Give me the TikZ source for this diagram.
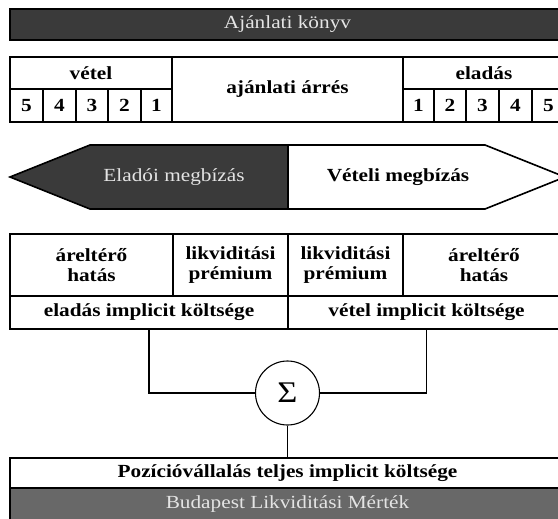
\documentclass[tikz,border=0pt]{standalone}
\usepackage{fontspec}
\setmainfont{Liberation Serif}[FakeStretch=1.15]
\definecolor{topdark}{HTML}{3A3A3A}
\definecolor{botgray}{HTML}{686868}
\definecolor{lighttext}{HTML}{E4E4E4}
\newcommand{\diafont}{\fontsize{18.5}{20.5}\selectfont}
\tikzset{
  cell/.style={draw=black, line width=1.5pt, fill=white, inner sep=0pt, font=\diafont\bfseries, align=center},
  darkbar/.style={draw=black, line width=1.5pt, fill=topdark, inner sep=0pt, text=lighttext, font=\diafont},
  graybar/.style={draw=black, line width=1.5pt, fill=botgray, inner sep=0pt, text=lighttext, font=\diafont},
  conn/.style={draw=black, line width=1.6pt},
  arrowpart/.style={draw=black, line width=1.6pt, line join=miter}
}
\begin{document}
\begin{tikzpicture}[x=1pt,y=-1pt]
\useasboundingbox (0,0) rectangle (558,519);
% top bar
\node[darkbar, minimum width=555pt, minimum height=31pt] (book) at (287.5,24.5) {Ajánlati könyv};
% order book table
\node[cell, minimum width=162pt, minimum height=32pt] (vetel) at (91,73) {vétel};
\node[cell, minimum width=33pt, minimum height=33pt] (v5) at (26.5,105.5) {5};
\node[cell, minimum width=33pt, minimum height=33pt] (v4) at (59.5,105.5) {4};
\node[cell, minimum width=32pt, minimum height=33pt] (v3) at (92,105.5) {3};
\node[cell, minimum width=33pt, minimum height=33pt] (v2) at (124.5,105.5) {2};
\node[cell, minimum width=31pt, minimum height=33pt] (v1) at (156.5,105.5) {1};
\node[cell, minimum width=231pt, minimum height=65pt] (spread) at (287.5,89.5) {ajánlati árrés};
\node[cell, minimum width=162pt, minimum height=32pt] (eladas) at (484,73) {eladás};
\node[cell, minimum width=31pt, minimum height=33pt] (e1) at (418.5,105.5) {1};
\node[cell, minimum width=32pt, minimum height=33pt] (e2) at (450,105.5) {2};
\node[cell, minimum width=33pt, minimum height=33pt] (e3) at (482.5,105.5) {3};
\node[cell, minimum width=33pt, minimum height=33pt] (e4) at (515.5,105.5) {4};
\node[cell, minimum width=33pt, minimum height=33pt] (e5) at (548.5,105.5) {5};
% order arrow
\filldraw[arrowpart, fill=topdark] (288,145) -- (90,145) -- (10,177) -- (90,209) -- (288,209) -- cycle;
\filldraw[arrowpart, fill=white] (288,145) -- (485,145) -- (565,177) -- (485,209) -- (288,209) -- cycle;
\node[text=lighttext, font=\diafont] (sellorder) at (174,177) {Eladói megbízás};
\node[font=\diafont\bfseries] (buyorder) at (398,177) {Vételi megbízás};
% cost table
\node[cell, minimum width=163pt, minimum height=62pt] (pi1) at (91.5,265) {áreltérő\\hatás};
\node[cell, minimum width=115pt, minimum height=62pt] (lp1) at (230.5,265) {likviditási\\prémium};
\node[cell, minimum width=115pt, minimum height=62pt] (lp2) at (345.5,265) {likviditási\\prémium};
\node[cell, minimum width=162pt, minimum height=62pt] (pi2) at (484,265) {áreltérő\\hatás};
\node[cell, minimum width=278pt, minimum height=33pt] (sellcost) at (149,312.5) {eladás implicit költsége};
\node[cell, minimum width=277pt, minimum height=33pt] (buycost) at (426.5,312.5) {vétel implicit költsége};
% sum
\node[draw=black, line width=1.1pt, circle, minimum size=64pt, inner sep=0pt, fill=white, font=\fontsize{30}{32}\selectfont] (sigma) at (287.5,393) {Σ};
\draw[conn] (sellcost.south) |- (sigma.west);
\draw[conn] (buycost.south) |- (sigma.east);
% bottom
\node[cell, minimum width=555pt, minimum height=30pt] (total) at (287.5,473) {Pozícióvállalás teljes implicit költsége};
\node[graybar, minimum width=555pt, minimum height=33pt] (blm) at (287.5,504.5) {Budapest Likviditási Mérték};
\draw[conn] (sigma.south) -- (total.north);
\end{tikzpicture}
\end{document}
